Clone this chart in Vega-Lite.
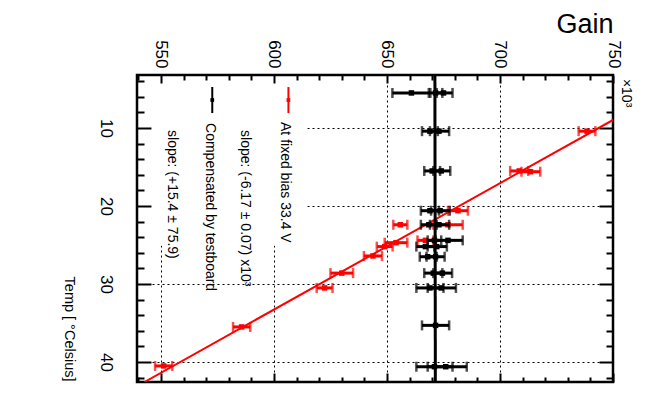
{
  "$schema": "https://vega.github.io/schema/vega-lite/v6.json",
  "width": 476,
  "height": 307,
  "autosize": "none",
  "padding": {"left": 137, "top": 75, "right": 50, "bottom": 29},
  "background": "white",
  "config": {
    "font": "Liberation Sans Narrow, Liberation Sans, sans-serif",
    "view": {"stroke": "black", "strokeWidth": 2.5},
    "axis": {"domain": false, "tickColor": "black", "labelColor": "black", "titleColor": "black", "titleFontWeight": "normal", "labelFlush": false, "labelOverlap": false, "labelBound": false, "gridColor": "black", "gridOpacity": 1, "gridDash": [2, 3], "gridWidth": 1}
  },
  "datasets": {
    "pts": [
      {"s": "f", "T": 10.4, "gain": 738.5, "lo": 734.8, "hi": 742.2},
      {"s": "f", "T": 15.5, "gain": 708.5, "lo": 704.5, "hi": 712.5},
      {"s": "f", "T": 15.6, "gain": 713.5, "lo": 709.5, "hi": 717.8},
      {"s": "f", "T": 20.6, "gain": 681.4, "lo": 677.0, "hi": 685.8},
      {"s": "f", "T": 22.4, "gain": 655.9, "lo": 652.8, "hi": 659.0},
      {"s": "f", "T": 22.4, "gain": 677.0, "lo": 670.5, "hi": 683.5},
      {"s": "f", "T": 24.4, "gain": 667.0, "lo": 663.5, "hi": 670.5},
      {"s": "f", "T": 24.7, "gain": 654.0, "lo": 649.0, "hi": 659.0},
      {"s": "f", "T": 25.2, "gain": 649.0, "lo": 645.5, "hi": 652.5},
      {"s": "f", "T": 26.4, "gain": 643.8, "lo": 639.8, "hi": 647.8},
      {"s": "f", "T": 28.6, "gain": 630.0, "lo": 625.0, "hi": 635.0},
      {"s": "f", "T": 30.5, "gain": 622.4, "lo": 618.9, "hi": 625.9},
      {"s": "f", "T": 35.5, "gain": 585.7, "lo": 581.9, "hi": 589.5},
      {"s": "f", "T": 40.5, "gain": 551.2, "lo": 547.4, "hi": 555.0},
      {"s": "c", "T": 5.5, "gain": 660.8, "lo": 652.4, "hi": 669.2},
      {"s": "c", "T": 5.5, "gain": 671.5, "lo": 668.5, "hi": 674.5},
      {"s": "c", "T": 5.5, "gain": 675.0, "lo": 672.0, "hi": 679.0},
      {"s": "c", "T": 10.4, "gain": 669.0, "lo": 665.5, "hi": 672.5},
      {"s": "c", "T": 10.4, "gain": 673.0, "lo": 669.0, "hi": 677.5},
      {"s": "c", "T": 15.5, "gain": 670.0, "lo": 666.5, "hi": 673.5},
      {"s": "c", "T": 15.5, "gain": 674.0, "lo": 670.5, "hi": 678.0},
      {"s": "c", "T": 20.6, "gain": 669.0, "lo": 665.0, "hi": 673.0},
      {"s": "c", "T": 20.6, "gain": 673.5, "lo": 669.5, "hi": 677.8},
      {"s": "c", "T": 22.4, "gain": 668.5, "lo": 665.0, "hi": 672.0},
      {"s": "c", "T": 22.4, "gain": 673.0, "lo": 669.0, "hi": 677.5},
      {"s": "c", "T": 24.4, "gain": 671.0, "lo": 668.0, "hi": 674.0},
      {"s": "c", "T": 24.4, "gain": 677.0, "lo": 671.5, "hi": 683.5},
      {"s": "c", "T": 25.2, "gain": 667.0, "lo": 663.0, "hi": 671.0},
      {"s": "c", "T": 25.2, "gain": 672.0, "lo": 668.0, "hi": 676.5},
      {"s": "c", "T": 26.5, "gain": 668.0, "lo": 664.5, "hi": 672.0},
      {"s": "c", "T": 26.5, "gain": 671.5, "lo": 667.5, "hi": 675.5},
      {"s": "c", "T": 28.6, "gain": 670.5, "lo": 666.5, "hi": 674.5},
      {"s": "c", "T": 28.6, "gain": 674.5, "lo": 670.5, "hi": 678.8},
      {"s": "c", "T": 30.5, "gain": 669.0, "lo": 663.0, "hi": 675.0},
      {"s": "c", "T": 30.5, "gain": 674.0, "lo": 668.0, "hi": 680.5},
      {"s": "c", "T": 35.3, "gain": 671.5, "lo": 665.5, "hi": 677.5},
      {"s": "c", "T": 40.6, "gain": 671.0, "lo": 663.0, "hi": 679.0},
      {"s": "c", "T": 40.6, "gain": 676.0, "lo": 668.0, "hi": 685.3}
    ],
    "fit": [
      {"s": "f", "T": 3.2, "gain": 785.6},
      {"s": "f", "T": 42.56, "gain": 542.7},
      {"s": "c", "T": 3.2, "gain": 671.2},
      {"s": "c", "T": 42.56, "gain": 671.4}
    ],
    "legbox": [{"g1": 546.0, "g2": 614.7, "t1": 4.35, "t2": 25.1}],
    "legsym": [
      {"s": "f", "g": 606.4, "t1": 4.74, "t2": 8.08, "tm": 6.41},
      {"s": "c", "g": 572.7, "t1": 4.74, "t2": 8.08, "tm": 6.41}
    ],
    "legtxt": [
      {"txt": "At fixed bias 33.4 V", "g": 605.0, "t": 9.23},
      {"txt": "slope: (-6.17 ± 0.07) x10³", "g": 587.3, "t": 10.26},
      {"txt": "Compensated by testboard", "g": 571.8, "t": 9.36},
      {"txt": "slope: (+15.4 ± 75.9)", "g": 555.0, "t": 10.26},
      {"txt": "×10³", "g": 755.8, "t": 3.7}
    ]
  },
  "resolve": {"axis": {"x": "independent", "y": "independent"}},
  "layer": [
    {
      "data": {"name": "pts"},
      "transform": [{"filter": "datum.s === 'f'"}],
      "mark": {"type": "rule", "color": "#ff0000", "strokeWidth": 3},
      "encoding": {
        "x": {"field": "lo", "type": "quantitative", "scale": {"domain": [539.4, 750], "nice": false, "zero": false},
          "axis": {"orient": "top", "values": [550, 600, 650, 700, 750], "tickSize": -8, "tickWidth": 2, "labelAngle": 90, "labelAlign": "right", "labelBaseline": "middle", "labelPadding": 15, "labelFontSize": 17, "grid": true, "title": "Gain", "titleAngle": 0, "titleAlign": "right", "titleBaseline": "alphabetic", "titleX": 476, "titleY": -43, "titleFontSize": 27, "titleFont": "Liberation Sans"}},
        "x2": {"field": "hi"},
        "y": {"field": "T", "type": "quantitative", "scale": {"domain": [3.2, 42.56], "nice": false, "zero": false, "reverse": true},
          "axis": {"orient": "left", "values": [10, 20, 30, 40], "tickSize": -14, "tickWidth": 2, "labelAngle": 90, "labelAlign": "center", "labelBaseline": "top", "labelPadding": 38, "labelFontSize": 17, "grid": true, "title": "Temp [ °Celsius]", "titleAngle": 90, "titleAlign": "right", "titleBaseline": "middle", "titleX": -69, "titleY": 306, "titleFontSize": 14.5}}
      }
    },
    {
      "data": {"name": "pts"},
      "transform": [{"filter": "datum.s === 'f'"}],
      "mark": {"type": "tick", "orient": "vertical", "color": "#ff0000", "size": 10, "thickness": 2.5},
      "encoding": {
        "x": {"field": "lo", "type": "quantitative", "scale": {"domain": [539.4, 750], "nice": false, "zero": false},
          "axis": {"orient": "top", "values": [540, 560, 570, 580, 590, 610, 620, 630, 640, 660, 670, 680, 690, 710, 720, 730, 740], "tickSize": -5, "tickWidth": 2, "labels": false, "grid": false, "title": null}},
        "y": {"field": "T", "type": "quantitative", "scale": {"domain": [3.2, 42.56], "nice": false, "zero": false, "reverse": true},
          "axis": {"orient": "left", "values": [4, 6, 8, 12, 14, 16, 18, 22, 24, 26, 28, 32, 34, 36, 38, 42], "tickSize": -7, "tickWidth": 2, "labels": false, "grid": false, "title": null}}
      }
    },
    {
      "data": {"name": "pts"},
      "transform": [{"filter": "datum.s === 'f'"}],
      "mark": {"type": "tick", "orient": "vertical", "color": "#ff0000", "size": 10, "thickness": 2.5},
      "encoding": {
        "x": {"field": "hi", "type": "quantitative", "scale": {"domain": [539.4, 750], "nice": false, "zero": false},
          "axis": {"orient": "bottom", "values": [550, 600, 650, 700, 750], "tickSize": -9, "tickWidth": 2, "labels": false, "grid": false, "title": null}},
        "y": {"field": "T", "type": "quantitative", "scale": {"domain": [3.2, 42.56], "nice": false, "zero": false, "reverse": true},
          "axis": {"orient": "right", "values": [10, 20, 30, 40], "tickSize": -14, "tickWidth": 2, "labels": false, "grid": false, "title": null}}
      }
    },
    {
      "data": {"name": "pts"},
      "transform": [{"filter": "datum.s === 'f'"}],
      "mark": {"type": "point", "shape": "square", "filled": true, "color": "#ff0000", "size": 30, "opacity": 1},
      "encoding": {
        "x": {"field": "gain", "type": "quantitative", "scale": {"domain": [539.4, 750], "nice": false, "zero": false},
          "axis": {"orient": "bottom", "values": [540, 560, 570, 580, 590, 610, 620, 630, 640, 660, 670, 680, 690, 710, 720, 730, 740], "tickSize": -5, "tickWidth": 2, "labels": false, "grid": false, "title": null}},
        "y": {"field": "T", "type": "quantitative", "scale": {"domain": [3.2, 42.56], "nice": false, "zero": false, "reverse": true},
          "axis": {"orient": "right", "values": [4, 6, 8, 12, 14, 16, 18, 22, 24, 26, 28, 32, 34, 36, 38, 42], "tickSize": -7, "tickWidth": 2, "labels": false, "grid": false, "title": null}}
      }
    },
    {
      "data": {"name": "legbox"},
      "mark": {"type": "rect", "fill": "white", "stroke": null},
      "encoding": {
        "x": {"field": "g1", "type": "quantitative", "scale": {"domain": [539.4, 750], "nice": false, "zero": false}, "axis": null},
        "x2": {"field": "g2"},
        "y": {"field": "t1", "type": "quantitative", "scale": {"domain": [3.2, 42.56], "nice": false, "zero": false, "reverse": true}, "axis": null},
        "y2": {"field": "t2"}
      }
    },
    {
      "data": {"name": "fit"},
      "transform": [{"filter": "datum.s === 'f'"}],
      "mark": {"type": "line", "color": "#ff0000", "strokeWidth": 2, "clip": true},
      "encoding": {
        "x": {"field": "gain", "type": "quantitative", "scale": {"domain": [539.4, 750], "nice": false, "zero": false}, "axis": null},
        "y": {"field": "T", "type": "quantitative", "scale": {"domain": [3.2, 42.56], "nice": false, "zero": false, "reverse": true}, "axis": null},
        "order": {"field": "T"}
      }
    },
    {
      "data": {"name": "pts"},
      "transform": [{"filter": "datum.s === 'c'"}],
      "mark": {"type": "rule", "color": "black", "strokeWidth": 3},
      "encoding": {
        "x": {"field": "lo", "type": "quantitative", "scale": {"domain": [539.4, 750], "nice": false, "zero": false}, "axis": null},
        "x2": {"field": "hi"},
        "y": {"field": "T", "type": "quantitative", "scale": {"domain": [3.2, 42.56], "nice": false, "zero": false, "reverse": true}, "axis": null}
      }
    },
    {
      "data": {"name": "pts"},
      "transform": [{"filter": "datum.s === 'c'"}],
      "mark": {"type": "tick", "orient": "vertical", "color": "black", "size": 10, "thickness": 2.5},
      "encoding": {
        "x": {"field": "lo", "type": "quantitative", "scale": {"domain": [539.4, 750], "nice": false, "zero": false}, "axis": null},
        "y": {"field": "T", "type": "quantitative", "scale": {"domain": [3.2, 42.56], "nice": false, "zero": false, "reverse": true}, "axis": null}
      }
    },
    {
      "data": {"name": "pts"},
      "transform": [{"filter": "datum.s === 'c'"}],
      "mark": {"type": "tick", "orient": "vertical", "color": "black", "size": 10, "thickness": 2.5},
      "encoding": {
        "x": {"field": "hi", "type": "quantitative", "scale": {"domain": [539.4, 750], "nice": false, "zero": false}, "axis": null},
        "y": {"field": "T", "type": "quantitative", "scale": {"domain": [3.2, 42.56], "nice": false, "zero": false, "reverse": true}, "axis": null}
      }
    },
    {
      "data": {"name": "pts"},
      "transform": [{"filter": "datum.s === 'c'"}],
      "mark": {"type": "point", "shape": "square", "filled": true, "color": "black", "size": 30, "opacity": 1},
      "encoding": {
        "x": {"field": "gain", "type": "quantitative", "scale": {"domain": [539.4, 750], "nice": false, "zero": false}, "axis": null},
        "y": {"field": "T", "type": "quantitative", "scale": {"domain": [3.2, 42.56], "nice": false, "zero": false, "reverse": true}, "axis": null}
      }
    },
    {
      "data": {"name": "fit"},
      "transform": [{"filter": "datum.s === 'c'"}],
      "mark": {"type": "line", "color": "black", "strokeWidth": 3, "clip": true},
      "encoding": {
        "x": {"field": "gain", "type": "quantitative", "scale": {"domain": [539.4, 750], "nice": false, "zero": false}, "axis": null},
        "y": {"field": "T", "type": "quantitative", "scale": {"domain": [3.2, 42.56], "nice": false, "zero": false, "reverse": true}, "axis": null},
        "order": {"field": "T"}
      }
    },
    {
      "data": {"name": "legsym"},
      "mark": {"type": "rule", "strokeWidth": 2},
      "encoding": {
        "x": {"field": "g", "type": "quantitative", "scale": {"domain": [539.4, 750], "nice": false, "zero": false}, "axis": null},
        "y": {"field": "t1", "type": "quantitative", "scale": {"domain": [3.2, 42.56], "nice": false, "zero": false, "reverse": true}, "axis": null},
        "y2": {"field": "t2"},
        "color": {"field": "s", "type": "nominal", "scale": {"domain": ["f", "c"], "range": ["#ff0000", "#000000"]}, "legend": null}
      }
    },
    {
      "data": {"name": "legsym"},
      "mark": {"type": "point", "shape": "square", "filled": true, "size": 14, "opacity": 1},
      "encoding": {
        "x": {"field": "g", "type": "quantitative", "scale": {"domain": [539.4, 750], "nice": false, "zero": false}, "axis": null},
        "y": {"field": "tm", "type": "quantitative", "scale": {"domain": [3.2, 42.56], "nice": false, "zero": false, "reverse": true}, "axis": null},
        "color": {"field": "s", "type": "nominal", "scale": {"domain": ["f", "c"], "range": ["#ff0000", "#000000"]}, "legend": null}
      }
    },
    {
      "data": {"name": "legtxt"},
      "mark": {"type": "text", "angle": 90, "align": "left", "baseline": "middle", "fontSize": 14, "color": "black"},
      "encoding": {
        "x": {"field": "g", "type": "quantitative", "scale": {"domain": [539.4, 750], "nice": false, "zero": false}, "axis": null},
        "y": {"field": "t", "type": "quantitative", "scale": {"domain": [3.2, 42.56], "nice": false, "zero": false, "reverse": true}, "axis": null},
        "text": {"field": "txt"}
      }
    }
  ]
}
